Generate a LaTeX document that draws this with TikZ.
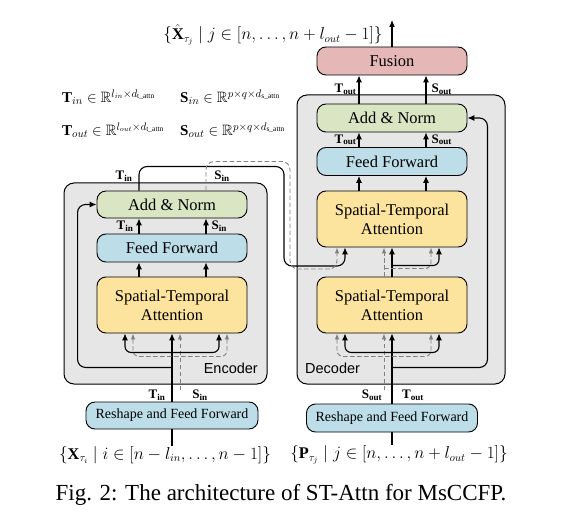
\documentclass[tikz,border=0pt]{standalone}
\usepackage{amssymb}
\usepackage{amsmath}
\usepackage{fontspec}
\setmainfont{Liberation Serif}
\setsansfont{Liberation Sans}
\usetikzlibrary{arrows.meta}

\definecolor{panelgray}{HTML}{E6E6E6}
\definecolor{normgreen}{HTML}{D9E5C3}
\definecolor{ffblue}{HTML}{BDDEE8}
\definecolor{attnyellow}{HTML}{FDE49E}
\definecolor{fusionpink}{HTML}{E5B8B7}
\definecolor{dashgray}{HTML}{808080}

\begin{document}
\begin{tikzpicture}[x=1pt,y=1pt]
	\tikzstyle{every node}+=[inner sep=0pt]
	\tikzstyle{panel}=[draw=black, line width=1pt, fill=panelgray, rounded corners=10pt]
	\tikzstyle{block}=[draw=black, line width=0.9pt, rounded corners=9pt, minimum width=150pt, align=center, font=\fontsize{16.5}{19}\selectfont]
	\tikzstyle{normbox}=[block, fill=normgreen, minimum height=27pt]
	\tikzstyle{ffbox}=[block, fill=ffblue, minimum height=28pt]
	\tikzstyle{attnbox}=[block, fill=attnyellow, minimum height=56pt]
	\tikzstyle{fusebox}=[block, fill=fusionpink, minimum height=28pt]
	\tikzstyle{rsbox}=[block, fill=ffblue, minimum height=27pt, minimum width=172pt, font=\fontsize{14}{16}\selectfont]
	\tikzstyle{lab}=[font=\fontsize{13}{13}\selectfont\bfseries]
	\tikzstyle{eq}=[font=\fontsize{16.3}{18}\selectfont]
	\tikzstyle{dimeq}=[anchor=west, font=\fontsize{15}{17}\selectfont]
	\tikzstyle{flow}=[line width=1.1pt, -{Latex[length=7pt,width=6pt]}]
	\tikzstyle{flowtwo}=[line width=1.1pt, {Latex[length=7pt,width=6pt]}-{Latex[length=7pt,width=6pt]}, rounded corners=6pt]
	\tikzstyle{skip}=[dashgray, line width=0.9pt, dash pattern=on 4.5pt off 2.5pt, -{Latex[length=6pt,width=4.5pt]}]
	\tikzstyle{skiptwo}=[skip, {Latex[length=6pt,width=4.5pt]}-{Latex[length=6pt,width=4.5pt]}, rounded corners=6pt]
	\useasboundingbox (0,0) rectangle (572,-526);

	\node[panel, minimum width=203pt, minimum height=201pt] (enc_box) at (165.5,-283.5) {};
	\node[panel, minimum width=208pt, minimum height=289pt] (dec_box) at (401,-239.5) {};
	\node[anchor=base east, font=\sffamily\fontsize{14.5}{16}\selectfont] (enc_name) at (258,-373) {Encoder};
	\node[anchor=base west, font=\sffamily\fontsize{14.5}{16}\selectfont] (dec_name) at (305,-373) {Decoder};

	\node[attnbox] (enc_attn) at (172,-305) {Spatial-Temporal\\Attention};
	\node[ffbox] (enc_ff) at (172,-248) {Feed Forward};
	\node[normbox] (enc_an) at (172,-204.5) {Add \& Norm};
	\node[rsbox] (enc_rs) at (172,-415.5) {Reshape and Feed Forward};

	\node[fusebox] (dec_fusion) at (392,-61) {Fusion};
	\node[normbox, minimum height=28pt] (dec_an) at (392,-118) {Add \& Norm};
	\node[ffbox] (dec_ff) at (392,-161.5) {Feed Forward};
	\node[attnbox] (dec_attn2) at (392,-219) {Spatial-Temporal\\Attention};
	\node[attnbox] (dec_attn1) at (392,-305) {Spatial-Temporal\\Attention};
	\node[rsbox, minimum width=171pt, minimum height=28pt] (dec_rs) at (392,-418) {Reshape and Feed Forward};

	\node[eq] (out_set) at (273,-35) {$\{\hat{\mathbf{X}}_{\tau_j}\mid j\in[n,\ldots,n+l_{out}-1]\}$};
	\node[eq] (in_set) at (165,-455) {$\{\mathbf{X}_{\tau_i}\mid i\in[n-l_{in},\ldots,n-1]\}$};
	\node[eq] (pos_set) at (399,-455) {$\{\mathbf{P}_{\tau_j}\mid j\in[n,\ldots,n+l_{out}-1]\}$};
	\node[dimeq] (tin_dim) at (62,-97) {$\mathbf{T}_{in}\in\mathbb{R}^{l_{in}\times d_{\mathrm{t\_attn}}}$};
	\node[dimeq] (sin_dim) at (180,-97) {$\mathbf{S}_{in}\in\mathbb{R}^{p\times q\times d_{\mathrm{s\_attn}}}$};
	\node[dimeq] (tout_dim) at (62,-130) {$\mathbf{T}_{out}\in\mathbb{R}^{l_{out}\times d_{\mathrm{t\_attn}}}$};
	\node[dimeq] (sout_dim) at (180,-130) {$\mathbf{S}_{out}\in\mathbb{R}^{p\times q\times d_{\mathrm{s\_attn}}}$};
	\node[font=\fontsize{23}{26}\selectfont] (caption) at (281,-495) {Fig. 2: The architecture of ST-Attn for MsCCFP.};

	\coordinate (enc_sin) at (180,-390);
	\coordinate (dec_sout) at (384,-390);
	\coordinate (dec_out) at (392,-20);

	\node[lab] (enc_tin_low) at (157,-395) {T\textsubscript{in}};
	\node[lab] (enc_sin_low) at (200,-395) {S\textsubscript{in}};
	\node[lab] (dec_sout_low) at (372,-395) {S\textsubscript{out}};
	\node[lab] (dec_tout_low) at (413,-395) {T\textsubscript{out}};
	\node[lab] (enc_tin_top) at (124,-176) {T\textsubscript{in}};
	\node[lab] (enc_sin_top) at (222,-176) {S\textsubscript{in}};

	\draw[flow] (enc_rs.north) -- (enc_attn.south);
	\draw[skip] (enc_sin) -- ([xshift=8pt]enc_attn.south);
	\draw[flowtwo] ([xshift=-47pt]enc_attn.south) -- ++(0,-19) -| ([xshift=47pt]enc_attn.south);
	\draw[skiptwo] ([xshift=-39pt]enc_attn.south) -- ++(0,-23) -| ([xshift=55pt]enc_attn.south);
	\draw[flow, rounded corners=8pt] ([yshift=-34pt]enc_attn.south) -| ([xshift=-19pt]enc_an.west) -- (enc_an.west);
	\draw[flow] ([xshift=-33pt]enc_attn.north) -- ([xshift=-33pt]enc_ff.south);
	\draw[flow] ([xshift=34pt]enc_attn.north) -- ([xshift=34pt]enc_ff.south);
	\draw[flow] ([xshift=-33pt]enc_ff.north) -- ([xshift=-33pt]enc_an.south) node[lab, midway, left=5pt] {T\textsubscript{in}};
	\draw[flow] ([xshift=34pt]enc_ff.north) -- ([xshift=34pt]enc_an.south) node[lab, midway, right=5pt] {S\textsubscript{in}};
	\draw[flow, rounded corners=8pt] ([xshift=-33pt]enc_an.north) -- ++(0,24) -| (284,-266) -| ([xshift=-47pt]dec_attn2.south);
	\draw[skip, rounded corners=8pt] ([xshift=34pt]enc_an.north) -- ++(0,29) -| (290,-269) -| ([xshift=-55pt]dec_attn2.south);

	\draw[flow] (dec_rs.north) -- (dec_attn1.south);
	\draw[skip] (dec_sout) -- ([xshift=-8pt]dec_attn1.south);
	\draw[flowtwo] ([xshift=-47pt]dec_attn1.south) -- ++(0,-19) -| ([xshift=47pt]dec_attn1.south);
	\draw[skiptwo] ([xshift=-55pt]dec_attn1.south) -- ++(0,-23) -| ([xshift=39pt]dec_attn1.south);
	\draw[flow, rounded corners=8pt] ([yshift=-34pt]dec_attn1.south) -| ([xshift=20pt]dec_an.east) -- (dec_an.east);
	\draw[flow] (dec_attn1.north) -- (dec_attn2.south);
	\draw[flow, rounded corners=6pt] ([yshift=11pt]dec_attn1.north) -| ([xshift=47pt]dec_attn2.south);
	\draw[skip] ([xshift=-8pt]dec_attn1.north) -- ([xshift=-8pt]dec_attn2.south);
	\draw[skip, rounded corners=6pt] ([xshift=-8pt,yshift=8pt]dec_attn1.north) -| ([xshift=39pt]dec_attn2.south);
	\draw[flow] ([xshift=-33pt]dec_attn2.north) -- ([xshift=-33pt]dec_ff.south);
	\draw[flow] ([xshift=34pt]dec_attn2.north) -- ([xshift=34pt]dec_ff.south);
	\draw[flow] ([xshift=-33pt]dec_ff.north) -- ([xshift=-33pt]dec_an.south) node[lab, midway, left=2pt] {T\textsubscript{out}};
	\draw[flow] ([xshift=34pt]dec_ff.north) -- ([xshift=34pt]dec_an.south) node[lab, midway, right=5pt] {S\textsubscript{out}};
	\draw[flow] ([xshift=-33pt]dec_an.north) -- ([xshift=-33pt]dec_fusion.south) node[lab, midway, left=2pt] {T\textsubscript{out}};
	\draw[flow] ([xshift=34pt]dec_an.north) -- ([xshift=34pt]dec_fusion.south) node[lab, midway, right=5pt] {S\textsubscript{out}};
	\draw[flow] (dec_fusion.north) -- (dec_out);

	\draw[line width=1.1pt] (enc_rs.south) -- (enc_rs.south |- in_set.north);
	\draw[line width=1.1pt] (dec_rs.south) -- (dec_rs.south |- pos_set.north);
\end{tikzpicture}
\end{document}
